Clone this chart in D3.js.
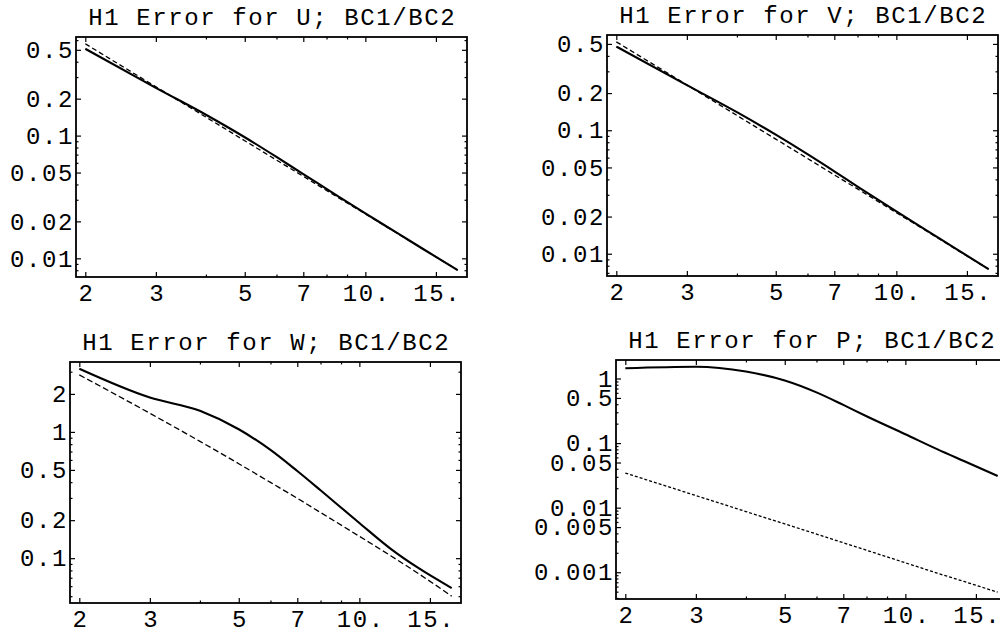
<!DOCTYPE html>
<html>
<head>
<meta charset="utf-8">
<script src="https://cdn.jsdelivr.net/npm/d3@7"></script>
<style>
  body { margin: 0; background: #fff; }
  svg { display: block; }
  text { font-family: "Liberation Mono", "Courier New", monospace; fill: #000; }
</style>
</head>
<body>
<svg id="chart" width="1000" height="633"></svg>
<script>
// mesh parameter n (x axis) and error values
var nVals   = [2, 3, 4, 5, 6, 7, 8, 10, 12, 14, 17];
var uSolid  = [0.51, 0.245, 0.148, 0.097, 0.067, 0.0485, 0.0368, 0.0232, 0.0161, 0.0118, 0.0080];
var uDashed = [0.56, 0.250, 0.1415, 0.0908, 0.0632, 0.0466, 0.0357, 0.0230, 0.0160, 0.0118, 0.0080];
var vSolid  = [0.476, 0.232, 0.140, 0.092, 0.064, 0.0465, 0.0350, 0.0220, 0.0152, 0.0111, 0.0075];
var vDashed = [0.52, 0.233, 0.1318, 0.0848, 0.0591, 0.0435, 0.0335, 0.0215, 0.0150, 0.0110, 0.0075];
var wSolid  = [3.16, 1.87, 1.47, 1.05, 0.72, 0.49, 0.345, 0.19, 0.118, 0.084, 0.058];
var wDashed = [2.83, 1.405, 0.842, 0.560, 0.398, 0.298, 0.230, 0.149, 0.104, 0.076, 0.050];
var pSolid  = [1.44, 1.52, 1.28, 0.932, 0.61, 0.39, 0.260, 0.137, 0.0806, 0.0527, 0.0310];
var pDashed = [0.0344, 0.0154, 0.0087, 0.0056, 0.0039, 0.00286, 0.00219, 0.0014, 0.00097, 0.00072, 0.00049];

var titles = ["H1 Error for U; BC1/BC2", "H1 Error for V; BC1/BC2",
              "H1 Error for W; BC1/BC2", "H1 Error for P; BC1/BC2"];

var xTicks  = [2, 3, 5, 7, 10, 15];
var xLabels = ["2", "3", "5", "7", "10.", "15."];
var yTicksUV  = [0.01, 0.02, 0.05, 0.1, 0.2, 0.5];
var yLabelsUV = ["0.01", "0.02", "0.05", "0.1", "0.2", "0.5"];
var yTicksW   = [0.1, 0.2, 0.5, 1, 2];
var yLabelsW  = ["0.1", "0.2", "0.5", "1", "2"];
var yTicksP   = [0.001, 0.005, 0.01, 0.05, 0.1, 0.5, 1];
var yLabelsP  = ["0.001", "0.005", "0.01", "0.05", "0.1", "0.5", "1"];

var panels = [
    {title: titles[0], solid: uSolid, dashed: uDashed, yt: yTicksUV, yl: yLabelsUV, box: {left: 76, top: 37, width: 391, height: 240}, dash: "5,3"},
    {title: titles[1], solid: vSolid, dashed: vDashed, yt: yTicksUV, yl: yLabelsUV, box: {left: 607, top: 35, width: 391, height: 241}, dash: "5,3"},
    {title: titles[2], solid: wSolid, dashed: wDashed, yt: yTicksW, yl: yLabelsW, box: {left: 70, top: 362, width: 391, height: 241}, dash: "6,3"},
    {title: titles[3], solid: pSolid, dashed: pDashed, yt: yTicksP, yl: yLabelsP, box: {left: 616, top: 360, width: 391, height: 239}, dash: "3,2"}
];

var fontSize = 24,
    spacing = 1.6;   // keeps the 16px courier advance with a smaller glyph

// log range with a little padding, like the plotting program does
function padLog(ext, frac) {
    var a = Math.log(ext[0]), b = Math.log(ext[1]), p = (b - a) * frac;
    return [Math.exp(a - p), Math.exp(b + p)];
}

function minorTicks(domain, major) {
    var out = [];
    var lo = Math.floor(Math.log10(domain[0])), hi = Math.ceil(Math.log10(domain[1]));
    for (var e = lo; e <= hi; e++) {
        for (var k = 1; k < 10; k++) {
            var v = +(k * Math.pow(10, e)).toPrecision(6);
            if (v >= domain[0] && v <= domain[1] && major.indexOf(v) < 0) out.push(v);
        }
    }
    return out;
}

function draw_panel(svg, p) {
    var b = p.box;
    var g = svg.append("g").attr("transform", "translate(" + [b.left, b.top] + ")");

    var x = d3.scaleLog().domain(padLog(d3.extent(nVals), 0.025)).range([0, b.width]);
    var yExt = d3.extent(p.solid.concat(p.dashed));
    var y = d3.scaleLog().domain(padLog(yExt, 0.03)).range([b.height, 0]);

    var clipId = "clip" + b.left + "_" + b.top;
    g.append("defs").append("clipPath").attr("id", clipId)
        .append("rect").attr("width", b.width).attr("height", b.height);

    var xMinor = minorTicks(x.domain(), xTicks);
    var yMinor = minorTicks(y.domain(), p.yt);

    function style_axis(sel) {
        sel.attr("font-family", null).attr("font-size", null);
        sel.select(".domain").remove();
        sel.selectAll(".tick line").attr("stroke", "#000").attr("stroke-width", 1.2);
        sel.selectAll("text").style("font-size", fontSize + "px").style("letter-spacing", spacing + "px");
    }

    // labelled sides
    g.append("g").attr("transform", "translate(0," + b.height + ")")
        .call(d3.axisBottom(x).tickValues(xTicks).tickFormat((d, i) => xLabels[i])
            .tickSizeInner(-5).tickSizeOuter(0).tickPadding(7))
        .call(style_axis)
        .selectAll("text").attr("dx", spacing / 2);
    g.append("g")
        .call(d3.axisLeft(y).tickValues(p.yt).tickFormat((d, i) => p.yl[i])
            .tickSizeInner(-5).tickSizeOuter(0).tickPadding(2))
        .call(style_axis);

    // mirrored ticks on top and right
    g.append("g").call(d3.axisTop(x).tickValues(xTicks).tickFormat("").tickSizeInner(-5).tickSizeOuter(0)).call(style_axis);
    g.append("g").attr("transform", "translate(" + b.width + ",0)")
        .call(d3.axisRight(y).tickValues(p.yt).tickFormat("").tickSizeInner(-5).tickSizeOuter(0)).call(style_axis);

    // minor ticks
    g.append("g").attr("transform", "translate(0," + b.height + ")")
        .call(d3.axisBottom(x).tickValues(xMinor).tickFormat("").tickSizeInner(-2.5).tickSizeOuter(0)).call(style_axis);
    g.append("g").call(d3.axisTop(x).tickValues(xMinor).tickFormat("").tickSizeInner(-2.5).tickSizeOuter(0)).call(style_axis);
    g.append("g").call(d3.axisLeft(y).tickValues(yMinor).tickFormat("").tickSizeInner(-2.5).tickSizeOuter(0)).call(style_axis);
    g.append("g").attr("transform", "translate(" + b.width + ",0)")
        .call(d3.axisRight(y).tickValues(yMinor).tickFormat("").tickSizeInner(-2.5).tickSizeOuter(0)).call(style_axis);

    var line = d3.line().x((d, i) => x(nVals[i])).y(d => y(d)).curve(d3.curveMonotoneX);

    var plot = g.append("g").attr("clip-path", "url(#" + clipId + ")");
    plot.append("path").datum(p.dashed)
        .attr("d", line).attr("fill", "none").attr("stroke", "#000")
        .attr("stroke-width", 1.3).attr("stroke-dasharray", p.dash);
    plot.append("path").datum(p.solid)
        .attr("d", line).attr("fill", "none").attr("stroke", "#000")
        .attr("stroke-width", 2.1).attr("stroke-linejoin", "round");

    g.append("rect").attr("width", b.width).attr("height", b.height)
        .attr("fill", "none").attr("stroke", "#000").attr("stroke-width", 1.8);

    g.append("text").attr("x", b.width / 2 + spacing / 2).attr("y", -12)
        .attr("text-anchor", "middle").style("font-size", fontSize + "px")
        .style("letter-spacing", spacing + "px")
        .text(p.title);
}

var svg = d3.select("#chart");
panels.forEach(p => draw_panel(svg, p));
</script>
</body>
</html>
